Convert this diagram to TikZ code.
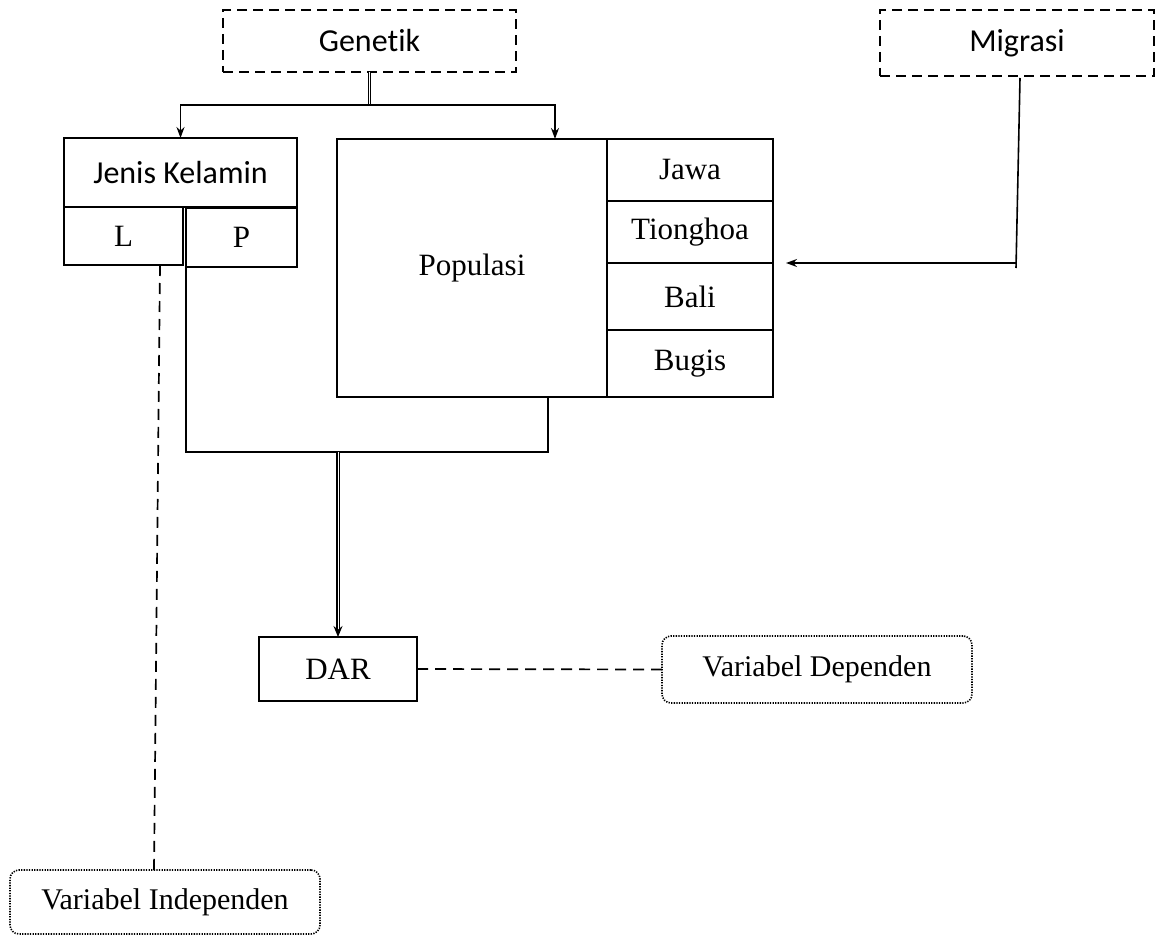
\documentclass[tikz,border=0pt]{standalone}
\usepackage{fontspec}
\setmainfont{Liberation Serif}
\newfontfamily\calib[Ligatures=NoCommon]{Carlito}
\usetikzlibrary{arrows.meta,calc}
\begin{document}
\begin{tikzpicture}[x=1pt,y=-1pt,
  box/.style={draw,line width=1.7pt,inner sep=0pt,outer sep=0pt,anchor=north west,font=\fontsize{31}{36}\selectfont},
  sbox/.style={box,font=\calib\fontsize{32}{38}\selectfont},
  dbox/.style={sbox,dash pattern=on 10pt off 6pt},
  vbox/.style={box,rounded corners=9pt,line width=1.6pt,dash pattern=on 1.3pt off 1.3pt,font=\fontsize{30}{36}\selectfont},
  ln/.style={line width=1.6pt},
  arr/.style={ln,-{Stealth[length=11pt,width=8pt]}},
  dbl/.style={double,double distance=0.8pt,line width=1.4pt},
  dsh/.style={line width=1.7pt,dash pattern=on 11pt off 7pt}]
\useasboundingbox (0,0) rectangle (1158,936);
% nodes
\node[dbox,minimum width=293pt,minimum height=62pt] (gen) at (223,10) {Genetik};
\node[dbox,minimum width=274pt,minimum height=66pt] (mig) at (880,10) {Migrasi};
\node[sbox,minimum width=233pt,minimum height=69pt] (jk) at (64,138) {Jenis Kelamin};
\node[box,minimum width=119pt,minimum height=58pt] (l) at (64,207) {L};
\node[box,minimum width=111pt,minimum height=59pt] (p) at (186,208) {P};
\node[box,minimum width=270pt,minimum height=258pt] (pop) at (337,139) {Populasi};
\node[box,minimum width=166pt,minimum height=62pt] (jw) at (607,139) {Jawa};
\node[box,minimum width=166pt,minimum height=62pt] (ti) at (607,201) {Tionghoa};
\node[box,minimum width=166pt,minimum height=67pt] (ba) at (607,263) {Bali};
\node[box,minimum width=166pt,minimum height=67pt] (bu) at (607,330) {Bugis};
\node[box,minimum width=158pt,minimum height=64pt] (dar) at (259,637) {DAR};
\node[vbox,minimum width=310pt,minimum height=67pt] (vd) at (662,636) {Variabel Dependen};
\node[vbox,minimum width=310pt,minimum height=64pt] (vi) at (10,870) {Variabel Independen};
% connectors
\coordinate (g1) at (gen.south |- 0,105);
\draw[dbl] (gen.south) -- (g1);
\draw[arr] (g1) -| (jk.north);
\coordinate (popin) at (555,139);
\draw[arr] (g1) -| (popin);
\coordinate (m1) at (1016,268);
\coordinate (m2) at (1016,263);
\coordinate (m3) at (786,263);
\draw[ln] (mig.south) ++(3,2) -- (m1);
\draw[arr] (m2) -- (m3);
\coordinate (j1) at (186,452);
\coordinate (j2) at (548,452);
\coordinate (pb) at (548,397);
\coordinate (jd) at (dar.north |- j1);
\draw[ln] (p.south west) -- (j1) -- (j2) -- (pb);
\draw[dbl,-{Stealth[length=11pt,width=9pt]}] (jd) -- (dar.north);
\coordinate (ls) at (160,265);
\coordinate (vit) at (154,870);
\draw[dsh] (ls) -- (vit);
\draw[dsh] (dar.east) -- (vd.west);
\end{tikzpicture}
\end{document}
